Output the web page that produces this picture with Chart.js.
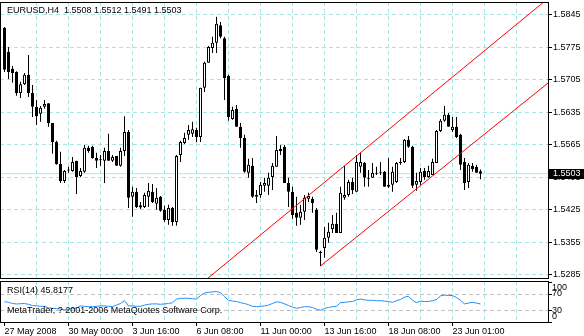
<!DOCTYPE html>
<html>
<head>
<meta charset="utf-8">
<script src="https://cdn.jsdelivr.net/npm/chart.js@4.4.1/dist/chart.umd.min.js"></script>
<style>
  html, body { margin: 0; padding: 0; background: #fff; }
  #wrap { position: relative; width: 584px; height: 336px; overflow: hidden; }
  canvas { position: absolute; left: 0; }
  #main { top: 0; }
  #rsi { top: 280px; }
</style>
</head>
<body>
<div id="wrap">
  <canvas id="main" width="584" height="280"></canvas>
  <canvas id="rsi" width="584" height="56"></canvas>
</div>
<script>
// EURUSD H4 (bar 0 = 27 May 2008)
const symbol = "EURUSD";
const period = "H4";

const opens = [
  1.5817, 1.5765, 1.5729, 1.5722, 1.5677, 1.5696, 1.5716, 1.5677, 1.5647, 1.5632,
  1.5647, 1.5655, 1.5612, 1.5571, 1.5524, 1.5487, 1.5511, 1.5509, 1.5531, 1.5498,
  1.5507, 1.5559, 1.5561, 1.5537, 1.5533, 1.5531, 1.5552, 1.5531, 1.5541, 1.5520,
  1.5552, 1.5593, 1.5453, 1.5464, 1.5435, 1.5431, 1.5453, 1.5464, 1.5438, 1.5453,
  1.5425, 1.5403, 1.5429, 1.5399, 1.5543, 1.5569, 1.5587, 1.5589, 1.5597, 1.5582,
  1.5688, 1.5742, 1.5774, 1.5785, 1.5823, 1.5795, 1.5714, 1.5621, 1.5643, 1.5604,
  1.5580, 1.5505, 1.5520, 1.5453, 1.5457, 1.5477, 1.5477, 1.5496, 1.5518, 1.5556,
  1.5561, 1.5483, 1.5464, 1.5419, 1.5408, 1.5421, 1.5449, 1.5449, 1.5425, 1.5334,
  1.5343, 1.5365, 1.5384, 1.5395, 1.5375, 1.5451, 1.5457, 1.5485, 1.5464, 1.5518,
  1.5526, 1.5494, 1.5494, 1.5503, 1.5505, 1.5507, 1.5479, 1.5479, 1.5485, 1.5528,
  1.5528, 1.5576, 1.5561, 1.5479, 1.5485, 1.5509, 1.5496, 1.5500, 1.5526, 1.5595,
  1.5617, 1.5630, 1.5597, 1.5604, 1.5587, 1.5528, 1.5485, 1.5520, 1.5518, 1.5508
];
const highs = [
  1.5819, 1.5776, 1.5735, 1.5724, 1.5701, 1.5720, 1.5759, 1.5694, 1.5662, 1.5649,
  1.5662, 1.5655, 1.5612, 1.5574, 1.5550, 1.5511, 1.5518, 1.5539, 1.5531, 1.5515,
  1.5565, 1.5563, 1.5563, 1.5548, 1.5543, 1.5559, 1.5589, 1.5543, 1.5541, 1.5559,
  1.5627, 1.5597, 1.5475, 1.5472, 1.5442, 1.5462, 1.5483, 1.5481, 1.5472, 1.5455,
  1.5434, 1.5436, 1.5431, 1.5543, 1.5574, 1.5591, 1.5608, 1.5615, 1.5602, 1.5688,
  1.5744, 1.5778, 1.5798, 1.5841, 1.5830, 1.5798, 1.5716, 1.5647, 1.5651, 1.5612,
  1.5587, 1.5535, 1.5537, 1.5468, 1.5485, 1.5494, 1.5505, 1.5526, 1.5584, 1.5565,
  1.5565, 1.5494, 1.5475, 1.5453, 1.5436, 1.5457, 1.5462, 1.5453, 1.5429, 1.5337,
  1.5388, 1.5397, 1.5414, 1.5419, 1.5475, 1.5520, 1.5490, 1.5494, 1.5543, 1.5548,
  1.5528, 1.5511, 1.5526, 1.5518, 1.5528, 1.5509, 1.5537, 1.5518, 1.5528, 1.5537,
  1.5578, 1.5584, 1.5563, 1.5505, 1.5515, 1.5515, 1.5520, 1.5535, 1.5597, 1.5621,
  1.5649, 1.5634, 1.5625, 1.5625, 1.5589, 1.5537, 1.5526, 1.5526, 1.5522, 1.5512
];
const lows = [
  1.5722, 1.5707, 1.5699, 1.5671, 1.5666, 1.5694, 1.5668, 1.5625, 1.5608, 1.5615,
  1.5643, 1.5604, 1.5546, 1.5522, 1.5483, 1.5483, 1.5505, 1.5507, 1.5459, 1.5496,
  1.5505, 1.5548, 1.5535, 1.5515, 1.5520, 1.5483, 1.5531, 1.5528, 1.5520, 1.5518,
  1.5541, 1.5429, 1.5410, 1.5429, 1.5427, 1.5429, 1.5431, 1.5440, 1.5425, 1.5421,
  1.5399, 1.5393, 1.5391, 1.5391, 1.5528, 1.5567, 1.5576, 1.5582, 1.5571, 1.5571,
  1.5679, 1.5742, 1.5763, 1.5763, 1.5795, 1.5662, 1.5617, 1.5619, 1.5604, 1.5559,
  1.5505, 1.5494, 1.5451, 1.5440, 1.5451, 1.5464, 1.5457, 1.5468, 1.5518, 1.5543,
  1.5483, 1.5431, 1.5406, 1.5391, 1.5393, 1.5403, 1.5442, 1.5419, 1.5334, 1.5304,
  1.5322, 1.5354, 1.5375, 1.5375, 1.5375, 1.5447, 1.5453, 1.5459, 1.5464, 1.5505,
  1.5475, 1.5475, 1.5494, 1.5500, 1.5500, 1.5475, 1.5472, 1.5464, 1.5483, 1.5522,
  1.5526, 1.5559, 1.5472, 1.5466, 1.5479, 1.5490, 1.5494, 1.5500, 1.5526, 1.5593,
  1.5615, 1.5604, 1.5593, 1.5580, 1.5511, 1.5468, 1.5472, 1.5507, 1.5505, 1.5491
];
const closes = [
  1.5727, 1.5722, 1.5720, 1.5677, 1.5696, 1.5716, 1.5677, 1.5647, 1.5627, 1.5645,
  1.5653, 1.5612, 1.5571, 1.5524, 1.5487, 1.5509, 1.5510, 1.5528, 1.5496, 1.5509,
  1.5559, 1.5552, 1.5537, 1.5531, 1.5532, 1.5552, 1.5531, 1.5539, 1.5520, 1.5552,
  1.5593, 1.5451, 1.5464, 1.5431, 1.5430, 1.5457, 1.5466, 1.5442, 1.5451, 1.5423,
  1.5403, 1.5429, 1.5399, 1.5541, 1.5571, 1.5580, 1.5597, 1.5599, 1.5582, 1.5688,
  1.5742, 1.5776, 1.5785, 1.5826, 1.5798, 1.5709, 1.5625, 1.5640, 1.5604, 1.5580,
  1.5507, 1.5522, 1.5453, 1.5457, 1.5479, 1.5483, 1.5494, 1.5520, 1.5554, 1.5552,
  1.5483, 1.5464, 1.5414, 1.5408, 1.5421, 1.5451, 1.5455, 1.5440, 1.5339, 1.5332,
  1.5365, 1.5378, 1.5395, 1.5375, 1.5462, 1.5457, 1.5485, 1.5468, 1.5528, 1.5528,
  1.5494, 1.5492, 1.5505, 1.5505, 1.5507, 1.5475, 1.5475, 1.5507, 1.5526, 1.5526,
  1.5576, 1.5561, 1.5477, 1.5487, 1.5507, 1.5496, 1.5509, 1.5528, 1.5595, 1.5617,
  1.5630, 1.5604, 1.5604, 1.5582, 1.5522, 1.5483, 1.5522, 1.5513, 1.5505, 1.5503
];
const rsiValues = [
  51.7, 50, 47, 45.8, 46.5, 47, 45, 42, 41, 40,
  40, 36, 35, 34, 33, 31, 33, 34, 36, 41,
  40, 39, 39, 40, 41, 41, 40, 39, 43, 47,
  54, 41, 41, 40, 40, 43, 45, 46, 46, 45,
  46, 47, 49, 58, 60, 60, 60, 59, 58, 67,
  73, 75, 76, 77, 74, 64, 55, 53, 52, 49,
  47, 44, 40, 39, 40, 41, 43, 47, 51, 50,
  46, 42, 38, 35, 37, 39, 39, 37, 33, 30,
  35, 37, 39, 40, 49, 50, 51, 52, 56, 58,
  56, 55, 55, 54, 54, 53, 52, 50, 54, 57,
  63, 65, 55, 49, 53, 52, 52, 54, 57, 66,
  68, 67, 67, 62, 55, 46, 48, 50, 48, 45.8177
];

const priceTicks = [1.5285, 1.5355, 1.5425, 1.5495, 1.5565, 1.5635, 1.5705, 1.5775, 1.5845];
const rsiLevels = [0, 30, 70, 100];
const gridBars = [0, 8, 16, 24, 32, 40, 48, 56, 64, 72, 80, 88, 96, 104, 112, 120, 128];
const labelBars = [0, 16, 32, 48, 64, 80, 96, 112];
const timeLabels = ["27 May 2008", "30 May 00:00", "3 Jun 16:00", "6 Jun 08:00",
                    "11 Jun 00:00", "13 Jun 16:00", "18 Jun 08:00", "23 Jun 01:00"];

// equidistant channel, [bar, price] anchors
const channelUpper = [[50.6, 1.5276], [136.5, 1.5885]];
const channelLower = [[79, 1.5304], [138, 1.5713]];

const GRID = '#a8e6e6';
const FONT = '9px "Liberation Sans", Arial, sans-serif';
const X_MIN = -1.125, X_MAX = 135.875;
const last = closes.length - 1;

Chart.defaults.font.family = '"Liberation Sans", Arial, sans-serif';
Chart.defaults.font.size = 9;
Chart.defaults.color = '#000';
Chart.defaults.animation = false;

function xAxis(showLabels) {
  return {
    type: 'linear', min: X_MIN, max: X_MAX, offset: false,
    afterBuildTicks: s => { s.ticks = gridBars.map(v => ({ value: v })); },
    afterFit: s => { s.height = showLabels ? 13 : 0; s.paddingLeft = 0; s.paddingRight = 0; },
    grid: {
      offset: false,
      color: c => (c.tick && c.tick.value === 0 ? 'rgba(0,0,0,0)' : GRID),
      drawTicks: showLabels,
      tickLength: 3,
      tickColor: c => (c.tick && labelBars.includes(c.tick.value) ? '#000' : 'rgba(0,0,0,0)')
    },
    border: { display: false, dash: [4, 3] },
    ticks: {
      display: showLabels, autoSkip: false, maxRotation: 0, minRotation: 0,
      padding: 0, align: 'start',
      callback: v => { const k = labelBars.indexOf(v); return k >= 0 ? timeLabels[k] : ''; }
    }
  };
}

const framePlugin = {
  id: 'frame',
  afterDraw(chart) {
    const { ctx, chartArea: a } = chart;
    ctx.save();
    ctx.strokeStyle = '#000';
    ctx.lineWidth = 1;
    ctx.strokeRect(a.left + 0.5, a.top + 0.5, a.right - a.left, a.bottom - a.top - 1);
    ctx.restore();
  }
};

const mainText = {
  id: 'mainText',
  afterDraw(chart) {
    const ctx = chart.ctx;
    const yPix = chart.scales.y.getPixelForValue(closes[last]);
    ctx.save();
    ctx.font = FONT;
    ctx.textBaseline = 'middle';
    ctx.fillStyle = '#000';
    const title = symbol + ',' + period + '  ' +
      [opens[last], highs[last], lows[last], closes[last]].map(v => v.toFixed(4)).join(' ');
    ctx.fillText(title, 7, 11);
    ctx.fillRect(549, Math.round(yPix) - 5, 35, 10);
    ctx.fillStyle = '#fff';
    ctx.fillText(closes[last].toFixed(4), 553, yPix);
    ctx.restore();
  }
};

const rsiText = {
  id: 'rsiText',
  afterDraw(chart) {
    const ctx = chart.ctx;
    const y = chart.scales.y;
    const nudge = { 100: 5, 70: -1, 30: 0, 0: -6 };
    ctx.save();
    ctx.font = FONT;
    ctx.textBaseline = 'middle';
    ctx.fillStyle = '#000';
    ctx.fillText('RSI(14) ' + rsiValues[last].toFixed(4), 7, 11);
    ctx.fillText('MetaTrader, ? 2001-2006 MetaQuotes Software Corp.', 7, 31);
    rsiLevels.forEach(v => ctx.fillText(String(v), 552, y.getPixelForValue(v) + nudge[v]));
    ctx.restore();
  }
};

const bars = opens.map((o, i) => ({ x: i, y: [o, closes[i]] }));
const wicks = opens.map((o, i) => ({ x: i, y: [lows[i], highs[i]] }));

new Chart(document.getElementById('main'), {
  type: 'bar',
  data: {
    datasets: [
      {
        type: 'line', order: 1, data: channelUpper.map(p => ({ x: p[0], y: p[1] })),
        borderColor: '#ff0000', borderWidth: 1, pointRadius: 0
      },
      {
        type: 'line', order: 1, data: channelLower.map(p => ({ x: p[0], y: p[1] })),
        borderColor: '#ff0000', borderWidth: 1, pointRadius: 0
      },
      {
        order: 2, data: bars, grouped: false,
        barThickness: 3, maxBarThickness: 3, minBarLength: 1,
        borderWidth: 1, borderColor: '#000', borderSkipped: false, inflateAmount: 0,
        backgroundColor: c => (c.raw && c.raw.y[1] > c.raw.y[0] ? '#fff' : '#000')
      },
      {
        order: 3, data: wicks, grouped: false,
        barThickness: 1, maxBarThickness: 1,
        borderWidth: 0, inflateAmount: 0, backgroundColor: '#000'
      },
      {
        type: 'line', order: 4,
        data: [{ x: X_MIN, y: closes[last] }, { x: X_MAX, y: closes[last] }],
        borderColor: '#a8eeee', borderWidth: 1, pointRadius: 0
      }
    ]
  },
  options: {
    responsive: false,
    events: [],
    layout: { padding: { top: 2, bottom: 1, left: 0, right: 0 } },
    plugins: { legend: { display: false }, tooltip: { enabled: false } },
    scales: {
      x: xAxis(false),
      y: {
        position: 'right', min: 1.5276, max: 1.5873,
        afterBuildTicks: s => { s.ticks = priceTicks.map(v => ({ value: v })); },
        afterFit: s => { s.width = 36; s.paddingTop = 0; s.paddingBottom = 0; },
        grid: { color: GRID, tickColor: '#000', tickLength: 4 },
        border: { display: false, dash: [4, 3] },
        ticks: { padding: 1, callback: v => v.toFixed(4) }
      }
    }
  },
  plugins: [framePlugin, mainText]
});

new Chart(document.getElementById('rsi'), {
  type: 'line',
  data: {
    datasets: [{
      data: rsiValues.map((v, i) => ({ x: i, y: v })),
      borderColor: '#1e90ff', borderWidth: 1, pointRadius: 0, tension: 0
    }]
  },
  options: {
    responsive: false,
    events: [],
    layout: { padding: { top: 1, bottom: 0, left: 0, right: 0 } },
    plugins: { legend: { display: false }, tooltip: { enabled: false } },
    scales: {
      x: xAxis(true),
      y: {
        position: 'right', min: -1.75, max: 103.25,
        afterBuildTicks: s => { s.ticks = rsiLevels.map(v => ({ value: v })); },
        afterFit: s => { s.width = 36; s.paddingTop = 0; s.paddingBottom = 0; },
        grid: {
          color: c => (c.tick && (c.tick.value === 30 || c.tick.value === 70) ? '#c0c0c0' : 'rgba(0,0,0,0)'),
          tickColor: '#000', tickLength: 4
        },
        border: { display: false, dash: [4, 3] },
        ticks: { display: false }
      }
    }
  },
  plugins: [framePlugin, rsiText]
});
</script>
</body>
</html>
